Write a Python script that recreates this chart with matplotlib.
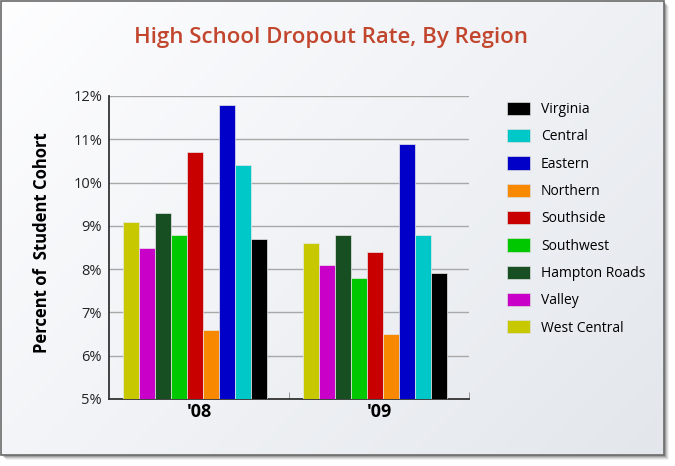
"""High school dropout rate by region, grouped bars for '08 and '09."""

import matplotlib

matplotlib.use("Agg")
import matplotlib.pyplot as plt
import numpy as np
from matplotlib.patches import Patch, Rectangle

# data, in drawing order within each group (left to right)
regions = ["West Central", "Valley", "Hampton Roads", "Southwest", "Southside",
           "Northern", "Eastern", "Central", "Virginia"]
years = ["'08", "'09"]
rate_08 = [9.1, 8.5, 9.3, 8.8, 10.7, 6.6, 11.8, 10.4, 8.7]
rate_09 = [8.6, 8.1, 8.8, 7.8, 8.4, 6.5, 10.9, 8.8, 7.9]
yticks = [5, 6, 7, 8, 9, 10, 11, 12]

colors = {
    "West Central": "#C8C800",
    "Valley": "#C800C8",
    "Hampton Roads": "#174E22",
    "Southwest": "#00C800",
    "Southside": "#C80000",
    "Northern": "#F88800",
    "Eastern": "#0000C8",
    "Central": "#00C8C8",
    "Virginia": "#000000",
}
legend_order = ["Virginia", "Central", "Eastern", "Northern", "Southside",
                "Southwest", "Hampton Roads", "Valley", "West Central"]

W, H = 675, 466
fig = plt.figure(figsize=(W / 100, H / 100), dpi=100)
fig.patch.set_facecolor("white")

# background panel with soft gradient and drop shadow
bg = fig.add_axes([0, 0, 1, 1])
bg.set_xlim(0, W)
bg.set_ylim(H, 0)
bg.axis("off")
for i, a in enumerate([0.08, 0.13, 0.2, 0.3]):
    off = 5 - i
    bg.add_patch(Rectangle((1 + off, 1 + off), 663, 454, facecolor="#555555",
                           edgecolor="none", alpha=a, zorder=0))
gx = np.linspace(0, 1, 200)
gy = np.linspace(0, 1, 200)
GX, GY = np.meshgrid(gx, gy)
t = (GX * 0.6 + GY * 0.4)
c0 = np.array([0.995, 0.995, 1.0])
c1 = np.array([0.89, 0.905, 0.925])
grad = c0 + (c1 - c0) * t[..., None]
bg.imshow(grad, extent=(1, 664, 455, 1), aspect="auto", zorder=1)
bg.add_patch(Rectangle((1, 1), 663, 454, facecolor="none", edgecolor="#6a6a6a",
                       linewidth=1.2, zorder=2))

fig.text(331 / W, 1 - 37 / H, "High School Dropout Rate, By Region",
         ha="center", va="center", fontsize=16, fontweight="semibold",
         color="#C2452D", family="Open Sans")

ax = fig.add_axes([109 / W, 1 - 399 / H, 360 / W, 303 / H])
ax.patch.set_alpha(0)

x = np.arange(len(years)) - 0.02
n = len(regions)
bw = 0.8 / n
for i, region in enumerate(regions):
    vals = [rate_08[i], rate_09[i]]
    ax.bar(x - 0.4 + bw * (i + 0.5), np.array(vals) - 5, bottom=5, width=bw,
           color=colors[region], edgecolor="#e8e8e8", linewidth=0.5, zorder=3)

ax.set_xlim(-0.5, 1.5)
ax.set_ylim(5, 12)
ax.set_yticks(yticks)
ax.set_yticklabels([f"{v}%" for v in yticks], fontsize=10.5, family="Open Sans",
                   color="#222222")
ax.yaxis.grid(True, color="#a8a8a8", linewidth=1)
ax.set_axisbelow(True)
ax.tick_params(axis="y", length=0, pad=5)
ax.set_xticks([0.5, 1.5], minor=True)
ax.set_xticks([0, 1])
ax.set_xticklabels(years, fontsize=13, fontweight="bold", family="Open Sans")
ax.tick_params(axis="x", which="major", length=0, pad=3)
ax.tick_params(axis="x", which="minor", direction="in", length=5, color="#888888")
for side in ["top", "right"]:
    ax.spines[side].set_visible(False)
ax.spines["left"].set_color("#333333")
ax.spines["bottom"].set_color("#333333")
ax.spines["left"].set_linewidth(1.3)
ax.spines["bottom"].set_linewidth(1.3)

fig.text(42 / W, 1 - 243 / H, "Percent of  Student Cohort", rotation=90,
         ha="center", va="center", fontsize=12, fontweight="bold",
         family="Open Sans")

handles = [Patch(facecolor=colors[r], edgecolor="#dddddd", linewidth=0.5)
           for r in legend_order]
fig.legend(handles, legend_order, loc="upper left",
           bbox_to_anchor=(495 / W, 1 - 89 / H), frameon=False,
           prop={"family": "Open Sans", "size": 10}, handlelength=1.6,
           handleheight=1.1, labelspacing=0.86, handletextpad=0.8)

fig.savefig("out.png", dpi=100)
